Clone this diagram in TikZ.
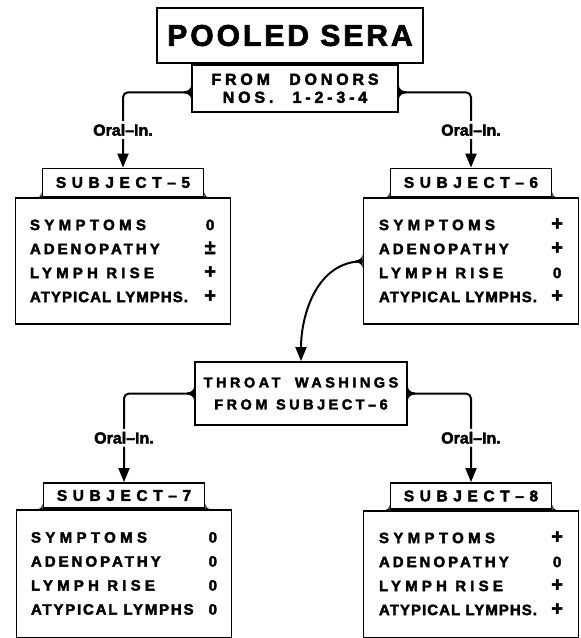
\documentclass[tikz,border=0pt]{standalone}
\usepackage{fontspec}
\setmainfont{Liberation Sans}[FakeBold=2.5]
\newfontfamily\titlefont{Liberation Sans}[LetterSpace=10, FakeBold=2.5]
\newfontfamily\widefont{Liberation Sans}[LetterSpace=24, FakeBold=2.5]
\newfontfamily\headfont{Liberation Sans}[LetterSpace=36, FakeBold=2.5]
\newfontfamily\rowfont{Liberation Sans}[LetterSpace=7, FakeBold=2.5]
% per-row tracking, values set without tracking
\newcommand\track[2]{{\addfontfeature{LetterSpace=#1}#2}}
\newcommand\score[1]{{\rmfamily\bfseries\fontsize{20}{24}\selectfont #1}}
\newcommand\nil{{\rmfamily\bfseries\fontsize{15}{24}\selectfont 0}}
\usetikzlibrary{positioning,arrows.meta}

\begin{document}
\begin{tikzpicture}[
  x=1pt, y=-1pt,
  box/.style={rectangle, draw, line width=1.8pt, inner sep=0pt},
  head/.style={box, minimum width=161pt, minimum height=28pt,
               font=\headfont\bfseries\fontsize{15.5}{15.5}\selectfont},
  panel/.style={box, minimum width=215pt, minimum height=126pt,
                font=\rowfont\bfseries\fontsize{15}{24}\selectfont},
  link/.style={-{Triangle[length=14pt,width=11pt]}, line width=2pt, rounded corners=5pt},
  route/.style={fill=white, inner sep=3pt, font=\bfseries\fontsize{16}{16}\selectfont},
  flare/.pic={\fill (0,7pt) to[out=-90,in=0] (-7pt,1pt) -- (-7pt,-1pt)
              to[out=0,in=90] (0,-7pt) -- cycle;},
  foot/.pic={\fill (0,-0.5pt) -- (0,5pt) to[out=-90,in=0] (-5pt,-0.5pt) -- cycle;}
]
\useasboundingbox (0,0) rectangle (581,638);

% ====== TOP: pooled sera ======
\node[box, minimum width=266pt, minimum height=55pt,
      font=\titlefont\bfseries\fontsize{30}{30}\selectfont] (pooled) at (290,35.5) {POOLED SERA};
\node[box, below=0pt of pooled, xshift=5pt, minimum width=206pt, minimum height=47pt,
      align=center, font=\widefont\bfseries\fontsize{16}{18}\selectfont] (donors)
      {FROM\hspace{1.2em}DONORS\\NOS.\hspace{1.2em}1-2-3-4};
\coordinate (dl) at ([yshift=-4pt]donors.west);
\coordinate (dr) at ([yshift=-4pt]donors.east);

% ====== SUBJECTS 5 AND 6 ======
\node[head] (s5head) at (123,182.5) {SUBJECT–5};
\node[panel, below=0pt of s5head] (s5) {%
  \begin{tabular*}{186pt}{@{}l@{\extracolsep{\fill}}c@{}}
  \track{29}{SYMPTOMS} & \nil\\ \track{20}{ADENOPATHY} & \score{±}\\
  \track{28}{LYMPH RISE} & \score{+}\\ ATYPICAL LYMPHS. & \score{+}
  \end{tabular*}};

\node[head] (s6head) at (471,182.5) {SUBJECT–6};
\node[panel, below=0pt of s6head] (s6) {%
  \begin{tabular*}{184pt}{@{}l@{\extracolsep{\fill}}c@{}}
  \track{29}{SYMPTOMS} & \score{+}\\ \track{20}{ADENOPATHY} & \score{+}\\
  \track{28}{LYMPH RISE} & \nil\\ ATYPICAL LYMPHS. & \score{+}
  \end{tabular*}};

\draw[link] (dl) -| node[route, pos=0.75] {Oral–In.} (s5head.north);
\draw[link] (dr) -| node[route, pos=0.75] {Oral–In.} (s6head.north);
\pic at (dl) {flare};
\pic[rotate=180] at (dr) {flare};

% ====== THROAT WASHINGS ======
\node[box, minimum width=212pt, minimum height=63pt, align=center,
      font=\widefont\bfseries\fontsize{14.5}{22}\selectfont] (throat) at (301,393.5)
      {THROAT\hspace{1em}WASHINGS\\FROM\hspace{0.6em}SUBJECT–6};
\draw[link, rounded corners=0pt] (s6.west) to[out=180, in=90] (throat.north);
\pic at (s6.west) {flare};

% ====== SUBJECTS 7 AND 8 ======
\node[head, minimum height=25pt] (s7head) at (124,495.5) {SUBJECT–7};
\node[panel, below=0pt of s7head, minimum height=128pt] (s7) {%
  \begin{tabular*}{186pt}{@{}l@{\extracolsep{\fill}}c@{}}
  \track{29}{SYMPTOMS} & \nil\\ \track{20}{ADENOPATHY} & \nil\\
  \track{28}{LYMPH RISE} & \nil\\ \track{12}{ATYPICAL LYMPHS} & \nil
  \end{tabular*}};

\node[head, minimum height=26pt] (s8head) at (471,496) {SUBJECT–8};
\node[panel, below=0pt of s8head, minimum height=127pt] (s8) {%
  \begin{tabular*}{184pt}{@{}l@{\extracolsep{\fill}}c@{}}
  \track{29}{SYMPTOMS} & \score{+}\\ \track{20}{ADENOPATHY} & \nil\\
  \track{28}{LYMPH RISE} & \score{+}\\ ATYPICAL LYMPHS. & \score{+}
  \end{tabular*}};

\draw[link] (throat.west) -| node[route, pos=0.75] {Oral–In.} (s7head.north);
\draw[link] (throat.east) -| node[route, pos=0.75] {Oral–In.} (s8head.north);
\pic at (throat.west) {flare};
\pic[rotate=180] at (throat.east) {flare};

% small fillets where each header sits on its panel
\foreach \h in {s5head, s6head, s7head, s8head} {
  \pic at (\h.south west) {foot};
  \pic[xscale=-1] at (\h.south east) {foot};
}

\end{tikzpicture}
\end{document}
